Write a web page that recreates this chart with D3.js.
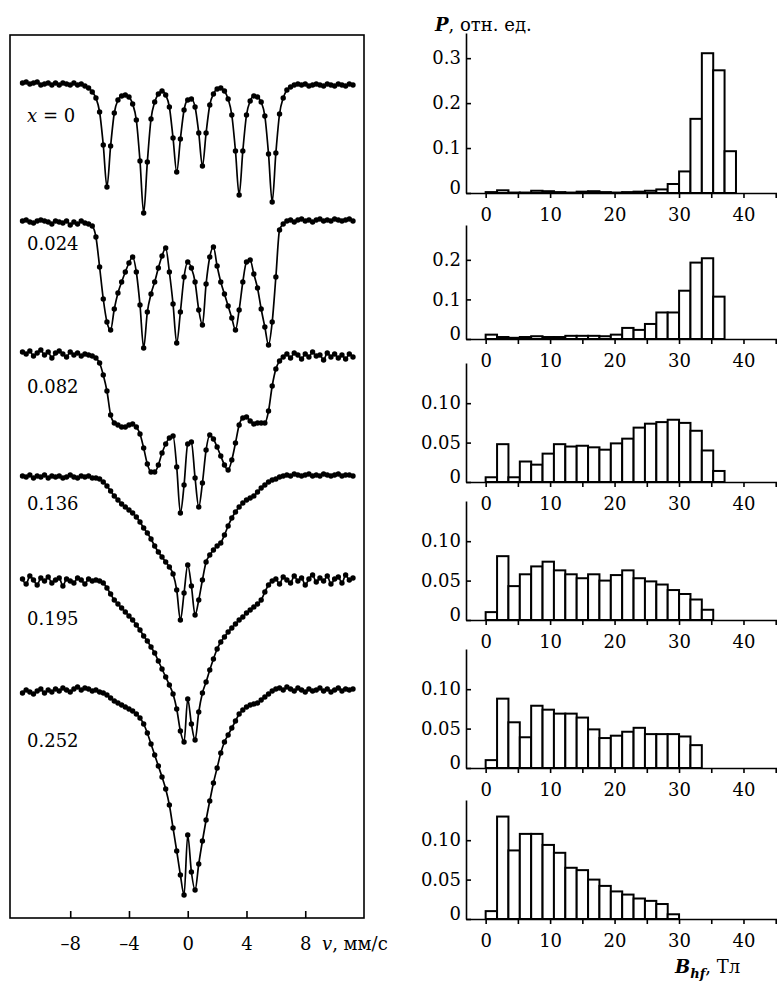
<!DOCTYPE html>
<html lang="ru">
<head>
<meta charset="UTF-8">
<title>Мёссбауэровские спектры и распределения P(B_hf)</title>
<script src="https://d3js.org/d3.v7.min.js"></script>
<style>
  body { margin: 0; background: #fff; }
  svg { font-family: "DejaVu Serif", serif; }
  .frame { fill: none; stroke: #000; stroke-width: 1.6; }
  .fit { fill: none; stroke: #000; stroke-width: 1.7; }
  .pt { fill: #000; }
  .bar { fill: #fff; stroke: #000; stroke-width: 2; }
  .axis path, .axis line { stroke: #000; stroke-width: 1.6; }
  .axis text { font-family: "DejaVu Serif", serif; font-size: 18px; fill: #000; }
  .lbl { font-size: 18px; fill: #000; }
</style>
</head>
<body>
<div id="chart"></div>
<script>
const width = 777, height = 984;

// скорость, мм/с (каналы спектра)
const velocity = [-11.25,-11,-10.75,-10.5,-10.25,-10,-9.75,-9.5,-9.25,-9,-8.75,-8.5,-8.25,-8,-7.75,-7.5,-7.25,-7,-6.75,-6.5,
  -6.25,-6,-5.75,-5.5,-5.25,-5,-4.75,-4.5,-4.25,-4,-3.75,-3.5,-3.25,-3,-2.75,-2.5,-2.25,-2,-1.75,-1.5,
  -1.25,-1,-0.75,-0.5,-0.25,0,0.25,0.5,0.75,1,1.25,1.5,1.75,2,2.25,2.5,2.75,3,3.25,3.5,
  3.75,4,4.25,4.5,4.75,5,5.25,5.5,5.75,6,6.25,6.5,6.75,7,7.25,7.5,7.75,8,8.25,8.5,
  8.75,9,9.25,9.5,9.75,10,10.25,10.5,10.75,11,11.25];

// отклонение от базовой линии, отн. ед.
const specX0 = [0.1,0.2,0.0,0.1,0.2,-0.1,0.0,0.1,-0.1,0.1,
  -0.1,0.1,0.0,-0.1,0.1,-0.1,0.0,-0.2,-0.4,-0.8,
  -1.4,-2.8,-6.1,-10.3,-6.2,-2.9,-1.6,-1.2,-1.1,-1.3,
  -2.0,-3.6,-7.7,-12.9,-7.8,-3.5,-1.8,-1.0,-0.7,-1.1,
  -2.3,-5.4,-8.8,-5.5,-2.6,-1.6,-1.5,-2.3,-4.9,-8.2,
  -4.9,-2.1,-1.0,-0.5,-0.4,-0.7,-1.5,-3.1,-6.7,-11.1,
  -6.7,-3.1,-1.7,-1.2,-1.3,-1.8,-3.2,-7.0,-11.8,-6.9,
  -3.0,-1.4,-0.6,-0.3,-0.1,0.0,-0.1,0.0,-0.2,-0.1,
  0.0,-0.1,-0.2,0.0,-0.1,-0.2,0.0,-0.1,-0.2,0.0,-0.1];
const specX024 = [0.1,0.2,0.0,-0.1,0.1,0.2,0.1,0.0,-0.2,0.1,
  0.0,-0.1,0.1,-0.3,0.0,-0.2,0.1,-0.1,-0.2,-0.4,
  -1.5,-4.5,-7.7,-10.0,-10.8,-8.7,-7.1,-6.0,-5.0,-4.1,
  -3.5,-5.0,-8.3,-12.6,-9.0,-7.2,-6.0,-4.6,-3.4,-2.6,
  -5.0,-8.2,-12.1,-9.0,-5.5,-4.0,-4.6,-6.0,-8.8,-10.3,
  -6.2,-3.5,-2.5,-4.4,-6.0,-7.2,-8.4,-9.6,-10.8,-8.8,
  -6.0,-4.0,-3.8,-5.2,-6.6,-8.7,-10.5,-12.3,-10.0,-5.5,
  -0.8,-0.2,0.1,0.2,0.0,0.2,0.3,0.1,0.2,0.0,
  0.2,0.3,0.1,0.2,0.1,0.3,0.2,0.1,0.2,0.3,0.1];
const specX082 = [0.3,0.1,0.4,-0.1,0.2,0.5,0.0,0.3,-0.3,0.2,
  0.4,0.1,-0.2,0.3,0.0,0.2,-0.1,0.1,0.0,-0.1,
  -0.3,-0.8,-2.0,-3.6,-6.0,-6.8,-7.0,-7.2,-7.2,-7.0,
  -6.9,-7.2,-7.9,-9.3,-10.9,-11.7,-11.7,-11.0,-9.8,-8.9,
  -8.3,-8.1,-11.2,-15.8,-13.0,-8.9,-8.7,-12.3,-15.2,-12.8,
  -9.5,-8.0,-8.4,-9.2,-10.1,-11.0,-11.5,-10.5,-8.8,-7.0,
  -6.3,-6.2,-6.6,-6.9,-6.8,-6.8,-6.8,-5.6,-3.1,-1.4,
  -0.6,-0.2,0.1,-0.3,0.2,0.0,-0.4,0.1,-0.2,0.3,
  -0.1,0.0,-0.5,0.2,-0.2,0.1,-0.3,0.0,-0.4,0.1,-0.2];
const specX136 = [0.1,0.0,0.2,-0.1,0.1,0.0,0.2,-0.1,0.1,0.0,
  0.1,-0.1,0.0,0.2,0.0,-0.1,0.1,0.0,0.1,-0.1,
  -0.1,-0.2,-0.5,-0.9,-1.4,-1.9,-2.3,-2.7,-3.0,-3.3,
  -3.6,-4.0,-4.5,-5.1,-5.6,-6.2,-6.9,-7.5,-8.0,-8.5,
  -9.0,-9.7,-11.3,-14.3,-11.6,-8.8,-10.9,-13.8,-12.3,-10.3,
  -8.5,-7.8,-7.3,-6.9,-6.6,-5.8,-4.9,-4.1,-3.5,-3.0,
  -2.6,-2.3,-2.1,-1.9,-1.5,-1.1,-0.8,-0.5,-0.3,-0.2,
  0.0,0.1,0.2,0.1,0.3,0.2,0.1,0.2,0.3,0.1,
  0.2,0.1,0.3,0.2,0.1,0.2,0.3,0.1,0.2,0.2,0.1];
const specX195 = [0.2,-0.3,0.5,0.1,-0.4,0.3,0.0,0.4,-0.2,0.1,
  0.3,-0.5,0.2,0.0,-0.2,0.3,0.1,-0.3,0.2,0.0,
  0.1,0.0,-0.2,-0.7,-1.3,-1.9,-2.3,-2.7,-3.1,-3.5,
  -3.9,-4.4,-4.9,-5.5,-6.0,-6.6,-7.2,-8.0,-8.8,-9.6,
  -10.4,-11.3,-12.8,-15.0,-16.1,-11.8,-14.3,-15.9,-13.1,-11.2,
  -10.1,-8.9,-7.8,-6.8,-6.1,-5.6,-5.1,-4.7,-4.3,-3.9,
  -3.6,-3.2,-2.9,-2.6,-2.3,-1.9,-1.1,-0.4,0.0,0.2,
  -0.3,0.4,0.1,-0.2,0.5,0.0,0.3,-0.4,0.2,0.6,
  -0.1,0.3,0.0,0.5,-0.3,0.2,0.4,-0.2,0.6,0.1,0.3];
const specX252 = [-0.1,0.2,0.0,-0.2,0.1,0.3,-0.1,0.2,0.0,0.3,
  0.1,0.4,0.2,0.0,0.3,0.5,0.2,0.4,0.3,0.1,
  0.2,0.0,-0.1,-0.3,-0.6,-0.9,-1.1,-1.3,-1.5,-1.7,
  -1.9,-2.2,-2.6,-3.2,-4.1,-5.2,-6.3,-7.4,-8.5,-9.7,
  -11.3,-13.6,-15.9,-18.3,-20.3,-14.3,-18.0,-19.8,-17.2,-14.9,
  -12.8,-10.9,-9.1,-7.6,-6.1,-5.0,-4.3,-3.6,-2.9,-2.2,
  -1.8,-1.5,-1.3,-1.2,-1.1,-0.8,-0.5,-0.2,0.1,0.3,
  0.4,0.2,0.5,0.3,0.1,0.4,0.2,0.0,0.3,0.1,
  0.2,0.4,0.1,0.3,0.0,0.2,0.4,0.1,0.3,0.2,0.3];

// уровень базовой линии каждого спектра (сдвиг по вертикали)
const baseLevel = [83.4, 69.6, 56.3, 44.1, 33.7, 22.6];
const concLabels = ["x = 0", "0.024", "0.082", "0.136", "0.195", "0.252"];
const vTicks = [-8, -4, 0, 4, 8];

// распределения сверхтонких полей P(B_hf)
const binStart = [0,1.77,3.53,5.30,7.06,8.83,10.59,12.36,14.12,15.89,17.65,19.42,21.18,22.95,24.71,26.48,28.24,30.01,31.77,33.54,35.30,37.07];
const binWidth = 1.765;
const pX0 = [0.002,0.006,0.001,0.001,0.005,0.004,0.002,0.001,0.003,0.004,0.002,0.001,0.002,0.003,0.005,0.008,0.020,0.048,0.165,0.311,0.273,0.093];
const pX024 = [0.011,0.005,0.003,0.005,0.007,0.005,0.005,0.008,0.008,0.008,0.007,0.011,0.028,0.023,0.038,0.067,0.067,0.122,0.193,0.204,0.107];
const pX082 = [0.006,0.048,0.006,0.026,0.022,0.036,0.048,0.045,0.046,0.044,0.041,0.049,0.055,0.069,0.074,0.076,0.079,0.075,0.065,0.040,0.014];
const pX136 = [0.010,0.081,0.043,0.058,0.068,0.074,0.063,0.058,0.053,0.058,0.050,0.057,0.063,0.053,0.049,0.045,0.038,0.033,0.026,0.013];
const pX195 = [0.010,0.088,0.058,0.039,0.079,0.074,0.069,0.069,0.064,0.049,0.038,0.041,0.046,0.051,0.043,0.043,0.043,0.040,0.029];
const pX252 = [0.010,0.130,0.087,0.108,0.108,0.094,0.084,0.065,0.062,0.050,0.042,0.035,0.031,0.026,0.023,0.019,0.006];
const pTicks = [[0, 0.1, 0.2, 0.3], [0, 0.1, 0.2], [0, 0.05, 0.10], [0, 0.05, 0.10], [0, 0.05, 0.10], [0, 0.05, 0.10]];
const pMax = [0.356, 0.288, 0.151, 0.151, 0.151, 0.151];
const bTicks = [0, 5, 10, 15, 20, 25, 30, 35, 40, 45];

const spectra = [specX0, specX024, specX082, specX136, specX195, specX252];
const hists = [pX0, pX024, pX082, pX136, pX195, pX252];

const svg = d3.select("#chart").append("svg")
    .attr("width", width)
    .attr("height", height);

// ---- левая панель: спектры ----
const box = { left: 10, right: 364, top: 35, bottom: 918 };
const xV = d3.scaleLinear().domain([-12.1, 12.0]).range([box.left, box.right]);
const yV = d3.scaleLinear().domain([0, 88.3]).range([box.bottom, box.top]);
const labelDy = [38, 28, 38, 33, 44, 55];

svg.append("rect")
    .attr("class", "frame")
    .attr("x", box.left).attr("y", box.top)
    .attr("width", box.right - box.left)
    .attr("height", box.bottom - box.top);

const line = d3.line()
    .x(d => xV(d.v))
    .y(d => yV(d.y))
    .curve(d3.curveMonotoneX);

spectra.forEach((s, k) => {
    const pts = velocity.map((v, i) => ({ v, y: baseLevel[k] + s[i] }));
    const g = svg.append("g");
    g.append("path").datum(pts).attr("class", "fit").attr("d", line);
    g.selectAll("circle").data(pts).join("circle")
        .attr("class", "pt")
        .attr("cx", d => xV(d.v))
        .attr("cy", d => yV(d.y))
        .attr("r", 2.7);

    const t = svg.append("text")
        .attr("class", "lbl")
        .attr("x", 27)
        .attr("y", yV(baseLevel[k]) + labelDy[k]);
    if (k === 0) {
        t.append("tspan").attr("font-style", "italic").text("x");
        t.append("tspan").text(" = 0");
    } else {
        t.text(concLabels[k]);
    }
});

svg.append("g")
    .attr("class", "axis")
    .attr("transform", `translate(0,${box.bottom})`)
    .call(d3.axisBottom(xV)
        .tickValues(vTicks)
        .tickSizeInner(-7)
        .tickSizeOuter(0)
        .tickPadding(19)
        .tickFormat(d => d < 0 ? "\u2013" + Math.abs(d) : d))
    .call(g => g.select(".domain").remove());

const vLab = svg.append("text").attr("class", "lbl").attr("x", 322).attr("y", 950);
vLab.append("tspan").attr("font-style", "italic").text("v");
vLab.append("tspan").text(", мм/с");

// ---- правая панель: гистограммы ----
const panelTop = [33, 225, 363, 501, 649, 800];
const panelBase = [193, 339, 482, 620, 768, 919];
const xB = d3.scaleLinear().domain([-3.05, 45.2]).range([466, 777]);

hists.forEach((p, k) => {
    const yP = d3.scaleLinear().domain([0, pMax[k]]).range([panelBase[k], panelTop[k]]);
    const g = svg.append("g");

    g.selectAll("rect").data(p).join("rect")
        .attr("class", "bar")
        .attr("x", (d, i) => xB(binStart[i]))
        .attr("width", (d, i) => xB(binStart[i] + binWidth) - xB(binStart[i]))
        .attr("y", d => yP(d))
        .attr("height", d => yP(0) - yP(d));

    g.append("g")
        .attr("class", "axis")
        .attr("transform", `translate(0,${panelBase[k]})`)
        .call(d3.axisBottom(xB)
            .tickValues(bTicks)
            .tickSize(5)
            .tickSizeOuter(0)
            .tickPadding(10)
            .tickFormat(d => (d % 10 === 0 && d <= 40) ? d : ""));

    const fmt = k < 2 ? (d => d === 0 ? "0" : d3.format(".1f")(d))
                      : (d => d === 0 ? "0" : d3.format(".2f")(d));
    g.append("g")
        .attr("class", "axis")
        .attr("transform", "translate(466,0)")
        .call(d3.axisLeft(yP)
            .tickValues(pTicks[k])
            .tickSizeInner(-5)
            .tickSizeOuter(0)
            .tickPadding(5)
            .tickFormat(fmt))
        .call(a => a.selectAll(".tick text").filter(d => d === 0).attr("dy", "0em"));
});

const pLab = svg.append("text").attr("class", "lbl").attr("x", 435).attr("y", 31);
pLab.append("tspan").attr("font-style", "italic").attr("font-weight", "bold").text("P");
pLab.append("tspan").text(", отн. ед.");

const bLab = svg.append("text").attr("class", "lbl").attr("x", 675).attr("y", 973);
bLab.append("tspan").attr("font-style", "italic").attr("font-weight", "bold").text("B");
bLab.append("tspan").attr("font-style", "italic").attr("font-weight", "bold")
    .attr("font-size", "13px").attr("dy", 5).text("hf");
bLab.append("tspan").attr("dy", -5).text(", Тл");
</script>
</body>
</html>
